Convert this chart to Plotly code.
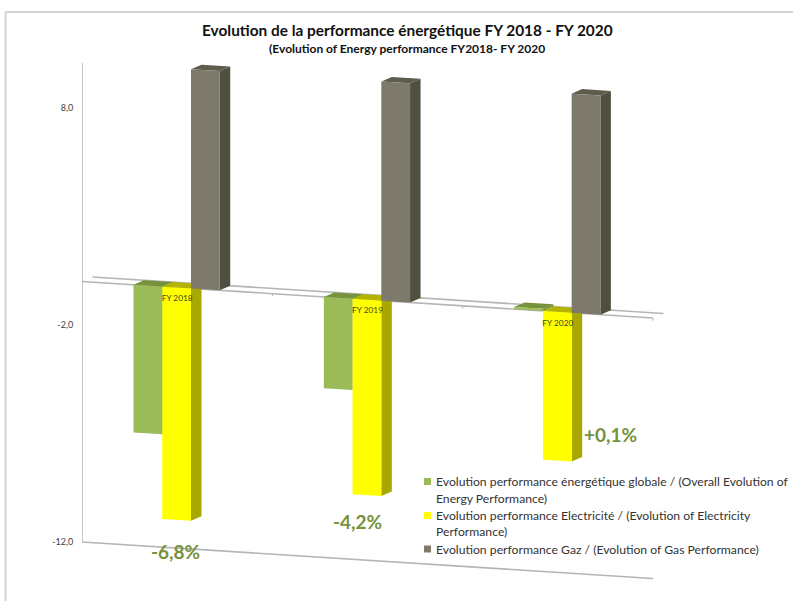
import plotly.graph_objects as go

TITLE = "Evolution de la performance énergétique FY 2018 - FY 2020"
SUBTITLE = "(Evolution of Energy performance FY2018- FY 2020"
categories = ["FY 2018", "FY 2019", "FY 2020"]
tick_values = [8, -2, -12]
tick_labels = ["8,0", "-2,0", "-12,0"]

global_perf = [-6.8, -4.2, 0.1]
electricity_perf = [-10.7, -9.0, -6.85]
gas_perf = [10.1, 10.1, 10.1]

global_name = ["Evolution performance énergétique globale / (Overall Evolution of", "Energy Performance)"]
electricity_name = ["Evolution performance Electricité / (Evolution of Electricity", "Performance)"]
gas_name = ["Evolution performance Gaz / (Evolution of Gas Performance)"]
percent_labels = ["-6,8%", "-4,2%", "+0,1%"]

W, H = 793, 601
# fake excel 3d look: the floor falls to the right and bars have a depth
SKEW = 0.5613     # value units lost per category
DEPTH_X = 0.0552
DEPTH_Y = 0.21
BAR_W = 0.151
GROUP_START = -0.5 + 0.2706
X_MIN, X_MAX = -0.5, 3.2356
Y_MIN, Y_MAX = -14.72, 12.97


def floor(x):
    return -SKEW * (x + 0.5)


def poly(fig, pts, color):
    fig.add_trace(go.Scatter(x=[p[0] for p in pts] + [pts[0][0]],
                             y=[p[1] for p in pts] + [pts[0][1]],
                             mode="lines", fill="toself", fillcolor=color,
                             line=dict(width=0), hoverinfo="skip", showlegend=False))


def line(fig, xs, ys, color="#b5b5b5", width=1.6):
    fig.add_trace(go.Scatter(x=xs, y=ys, mode="lines", line=dict(color=color, width=width),
                             hoverinfo="skip", showlegend=False))


def bar(fig, i, slot, value, front, side, top):
    x0 = i + GROUP_START + slot * BAR_W
    x1 = x0 + BAR_W
    b0, b1 = floor(x0), floor(x1)
    t0, t1 = b0 + value, b1 + value
    up = max(t0, b0), max(t1, b1)
    poly(fig, [(x0, up[0]), (x1, up[1]), (x1 + DEPTH_X, up[1] + DEPTH_Y), (x0 + DEPTH_X, up[0] + DEPTH_Y)], top)
    poly(fig, [(x1, t1), (x1, b1), (x1 + DEPTH_X, b1 + DEPTH_Y), (x1 + DEPTH_X, t1 + DEPTH_Y)], side)
    poly(fig, [(x0, b0), (x1, b1), (x1, t1), (x0, t0)], front)


fig = go.Figure()

# axes walls
line(fig, [-0.5, -0.5], [-12, 10.07])
line(fig, [-0.5, 2.5], [-12, -12 + floor(2.5)])
line(fig, [-0.5, 2.5], [floor(-0.5), floor(2.5)])
line(fig, [-0.5 + DEPTH_X, 2.5 + DEPTH_X], [floor(-0.5) + DEPTH_Y, floor(2.5) + DEPTH_Y])
for i in range(3):
    line(fig, [i + 0.5, i + 0.5], [floor(i + 0.5), floor(i + 0.5) - 0.12], width=1)

for i in range(3):
    bar(fig, i, 0, global_perf[i], "#9bbb59", "#76923c", "#76923c")
    bar(fig, i, 1, electricity_perf[i], "#ffff00", "#a8a800", "#b3b300")
    bar(fig, i, 2, gas_perf[i], "#7d796b", "#514f40", "#5f5c4e")

# category labels sit on the floor, over the bars
fig.add_trace(go.Scatter(x=list(range(3)), y=[floor(i) - 0.53 for i in range(3)],
                         mode="text", text=categories, textposition="middle center",
                         textfont=dict(family="Lato", size=8.3, color="#3f3f20"),
                         hoverinfo="skip", showlegend=False))


def note(text, px, py, size, color, bold=False, anchor="center"):
    fig.add_annotation(x=px / W, y=1 - py / H, xref="paper", yref="paper", text=text,
                       showarrow=False, xanchor=anchor, yanchor="middle",
                       font=dict(family="Lato", size=size, color=color, weight="bold" if bold else "normal"))


PAPER_NOTES = [(175, 551.5), (357, 521), (610, 434)]
for label, pos in zip(percent_labels, PAPER_NOTES):
    note(label, pos[0], pos[1], 19, "#76923c", bold=True)

note(TITLE, 407, 30, 15.4, "#111111", bold=True)
note(SUBTITLE, 407, 48, 12, "#111111", bold=True)

legend_rows = [(global_name, "#9bbb59", [481.5, 498]),
               (electricity_name, "#ffff00", [515.5, 531.5]),
               (gas_name, "#7f7b6b", [549])]
for names, color, rows in legend_rows:
    fig.add_shape(type="rect", xref="paper", yref="paper", x0=424 / W, x1=431 / W,
                  y0=1 - (rows[0] + 3.5) / H, y1=1 - (rows[0] - 3.5) / H,
                  fillcolor=color, line=dict(width=0))
    for name, row in zip(names, rows):
        note(name, 433.5, row, 12.2, "#333333", anchor="left")

# frame of the pasted picture, open on the right and at the bottom
frame = dict(type="line", xref="paper", yref="paper", line=dict(color="#d4d4d4", width=2))
fig.add_shape(x0=5.5 / W, x1=1, y0=1 - 12 / H, y1=1 - 12 / H, **frame)
fig.add_shape(x0=5.5 / W, x1=5.5 / W, y0=0, y1=1 - 12 / H, **frame)

fig.update_layout(width=W, height=H, margin=dict(l=0, r=0, t=0, b=0),
                  paper_bgcolor="white", plot_bgcolor="white", showlegend=False,
                  xaxis=dict(domain=[82 / W, 1], range=[X_MIN, X_MAX], visible=False),
                  yaxis=dict(range=[Y_MIN, Y_MAX], tickvals=tick_values, ticktext=tick_labels,
                             ticks="outside", ticklen=6, tickcolor="rgba(0,0,0,0)",
                             showgrid=False, zeroline=False, showline=False,
                             tickfont=dict(family="Lato", size=9, color="#404040"),
                             anchor="x"))

fig.write_html("out.html", config=dict(displayModeBar=False),
               post_script="document.body.style.margin = '0';")
